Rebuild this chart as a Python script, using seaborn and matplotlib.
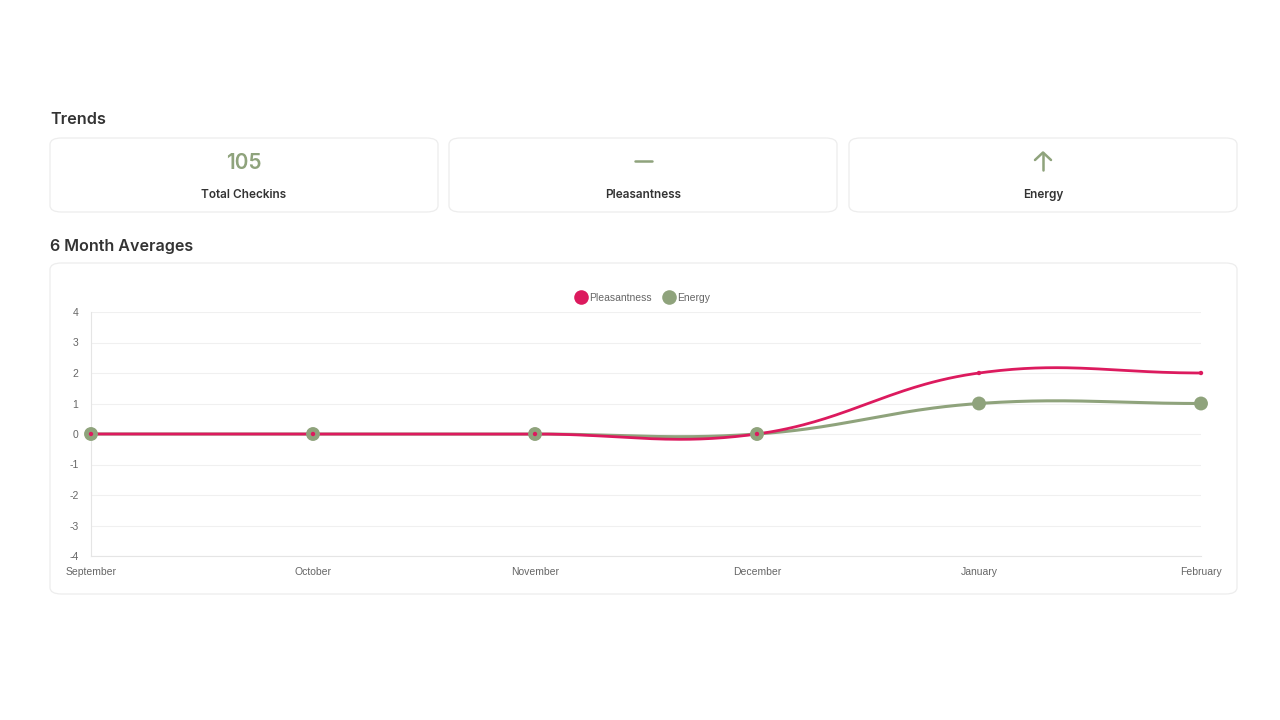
import numpy as np
import pandas as pd
import matplotlib
matplotlib.use("Agg")
import matplotlib.pyplot as plt
from matplotlib.patches import FancyBboxPatch
from matplotlib.lines import Line2D
import seaborn as sns

months = ["September", "October", "November", "December", "January", "February"]
pleasantness = [0, 0, 0, 0, 2, 2]
energy = [0, 0, 0, 0, 1, 1]
y_ticks = [-4, -3, -2, -1, 0, 1, 2, 3, 4]
total_checkins = "105"
card_labels = ["Total Checkins", "Pleasantness", "Energy"]

RED = "#DC1A5E"
GREEN = "#8FA37C"
TXT = "#333333"
TICK = "#666666"

sns.set_theme(style="white")
plt.rcParams["font.family"] = ["Inter", "DejaVu Sans"]

W, H = 1280, 720
fig = plt.figure(figsize=(12.8, 7.2), dpi=100)
fig.patch.set_facecolor("white")

def fx(px):
    return px / W

def fy(py):
    return 1 - py / H

def card(x0, y0, x1, y1):
    p = FancyBboxPatch((fx(x0), fy(y1)), fx(x1 - x0), (y1 - y0) / H,
                       boxstyle="round,pad=0,rounding_size=0.009",
                       transform=fig.transFigure, facecolor="white",
                       edgecolor="#EDEDED", linewidth=0.9, zorder=-5)
    fig.patches.append(p)

# Section titles
fig.text(fx(50), fy(120), "Trends", fontsize=11.7, fontweight="semibold", color=TXT, va="center", ha="left")
fig.text(fx(50), fy(246), "6 Month Averages", fontsize=11.6, fontweight="semibold", color=TXT, va="center", ha="left")

# Top cards
cards = [(50, 138, 438, 212), (449, 138, 837, 212), (849, 138, 1237, 212)]
for (x0, y0, x1, y1), lab in zip(cards, card_labels):
    card(x0, y0, x1, y1)
    fig.text(fx((x0 + x1) / 2), fy(195), lab, fontsize=8.5, fontweight="semibold", color=TXT, ha="center", va="center")

fig.text(fx(244), fy(163), total_checkins, fontsize=15, fontweight="semibold", color=GREEN, ha="center", va="center")
fig.add_artist(Line2D([fx(635), fx(652)], [fy(161), fy(161)], color=GREEN, linewidth=1.8, transform=fig.transFigure))
fig.add_artist(Line2D([fx(1043), fx(1043)], [fy(170), fy(153)], color=GREEN, linewidth=1.8, transform=fig.transFigure, solid_capstyle="round"))
fig.add_artist(Line2D([fx(1035), fx(1043), fx(1051)], [fy(160), fy(152.5), fy(160)], color=GREEN, linewidth=1.8, transform=fig.transFigure, solid_capstyle="round", solid_joinstyle="round"))

# Chart card
card(50, 263, 1237, 594)

# Axes
ax_l, ax_r, ax_t, ax_b = 91, 1201, 312, 556
ax = fig.add_axes([fx(ax_l), fy(ax_b), fx(ax_r - ax_l), (ax_b - ax_t) / H])
ax.set_facecolor("none")
ax.set_zorder(1)

x = np.arange(len(months))
px_per_x = (ax_r - ax_l) / (len(months) - 1)
px_per_y = (ax_b - ax_t) / 8.0


def chartjs_spline(xs, ys, tension=0.4, n=60):
    xs = np.asarray(xs, float)
    ys = np.asarray(ys, float)
    P = np.column_stack([xs * px_per_x, -ys * px_per_y])
    m = len(P)
    cp_prev = P.copy()
    cp_next = P.copy()
    for i in range(m):
        prev = P[i - 1] if i > 0 else P[i]
        nxt = P[i + 1] if i < m - 1 else P[i]
        d01 = np.linalg.norm(P[i] - prev)
        d12 = np.linalg.norm(nxt - P[i])
        tot = d01 + d12
        s01 = d01 / tot if tot else 0
        s12 = d12 / tot if tot else 0
        cp_prev[i] = P[i] - tension * s01 * (nxt - prev)
        cp_next[i] = P[i] + tension * s12 * (nxt - prev)
    out = []
    t = np.linspace(0, 1, n)[:, None]
    for i in range(m - 1):
        a, b, c, d = P[i], cp_next[i], cp_prev[i + 1], P[i + 1]
        seg = (1 - t) ** 3 * a + 3 * (1 - t) ** 2 * t * b + 3 * (1 - t) * t ** 2 * c + t ** 3 * d
        out.append(seg if i == 0 else seg[1:])
    out = np.vstack(out)
    return out[:, 0] / px_per_x, -out[:, 1] / px_per_y

ex, ey = chartjs_spline(x, energy)
pxs, pys = chartjs_spline(x, pleasantness)

sns.lineplot(x=ex, y=ey, ax=ax, color=GREEN, linewidth=2.2, sort=False, zorder=3)
sns.lineplot(x=pxs, y=pys, ax=ax, color=RED, linewidth=2.0, sort=False, zorder=4)
sns.scatterplot(x=x, y=energy, ax=ax, color=GREEN, s=100, edgecolor="none", zorder=5)
sns.scatterplot(x=x, y=pleasantness, ax=ax, color=RED, s=10, edgecolor="none", zorder=6)

ax.set_xlim(0, len(months) - 1)
ax.set_ylim(-4, 4)
ax.set_yticks(y_ticks)
ax.set_yticklabels([str(v) for v in y_ticks])
ax.set_xticks(x)
ax.set_xticklabels(months)
ax.grid(axis="y", color="#F0F0F0", linewidth=0.8)
ax.grid(axis="x", visible=False)
for s in ["top", "right"]:
    ax.spines[s].set_visible(False)
for s in ["left", "bottom"]:
    ax.spines[s].set_color("#E5E5E5")
    ax.spines[s].set_linewidth(0.8)
ax.tick_params(axis="y", length=5, width=0.8, color="#F0F0F0", pad=4, labelsize=7.5, labelcolor=TICK)
ax.tick_params(axis="x", length=0, pad=8, labelsize=7.5, labelcolor=TICK)
for lbl in ax.get_yticklabels() + ax.get_xticklabels():
    lbl.set_fontfamily(["Liberation Sans", "DejaVu Sans"])
ax.set_xlabel("")
ax.set_ylabel("")
for ln in ax.lines:
    ln.set_clip_on(False)
for c in ax.collections:
    c.set_clip_on(False)

# Legend
handles = [Line2D([], [], marker="o", linestyle="none", markersize=10.5, markerfacecolor=RED, markeredgecolor="none", label="Pleasantness"),
           Line2D([], [], marker="o", linestyle="none", markersize=10.5, markerfacecolor=GREEN, markeredgecolor="none", label="Energy")]
leg = fig.legend(handles=handles, loc="center", bbox_to_anchor=(fx(643), fy(298)), ncol=2, frameon=False,
                 handletextpad=0.3, columnspacing=1.2, handlelength=1.0,
                 prop={"family": ["Liberation Sans", "DejaVu Sans"], "size": 7.5})
for t in leg.get_texts():
    t.set_color(TICK)

fig.savefig("out.png", dpi=100, facecolor="white")
